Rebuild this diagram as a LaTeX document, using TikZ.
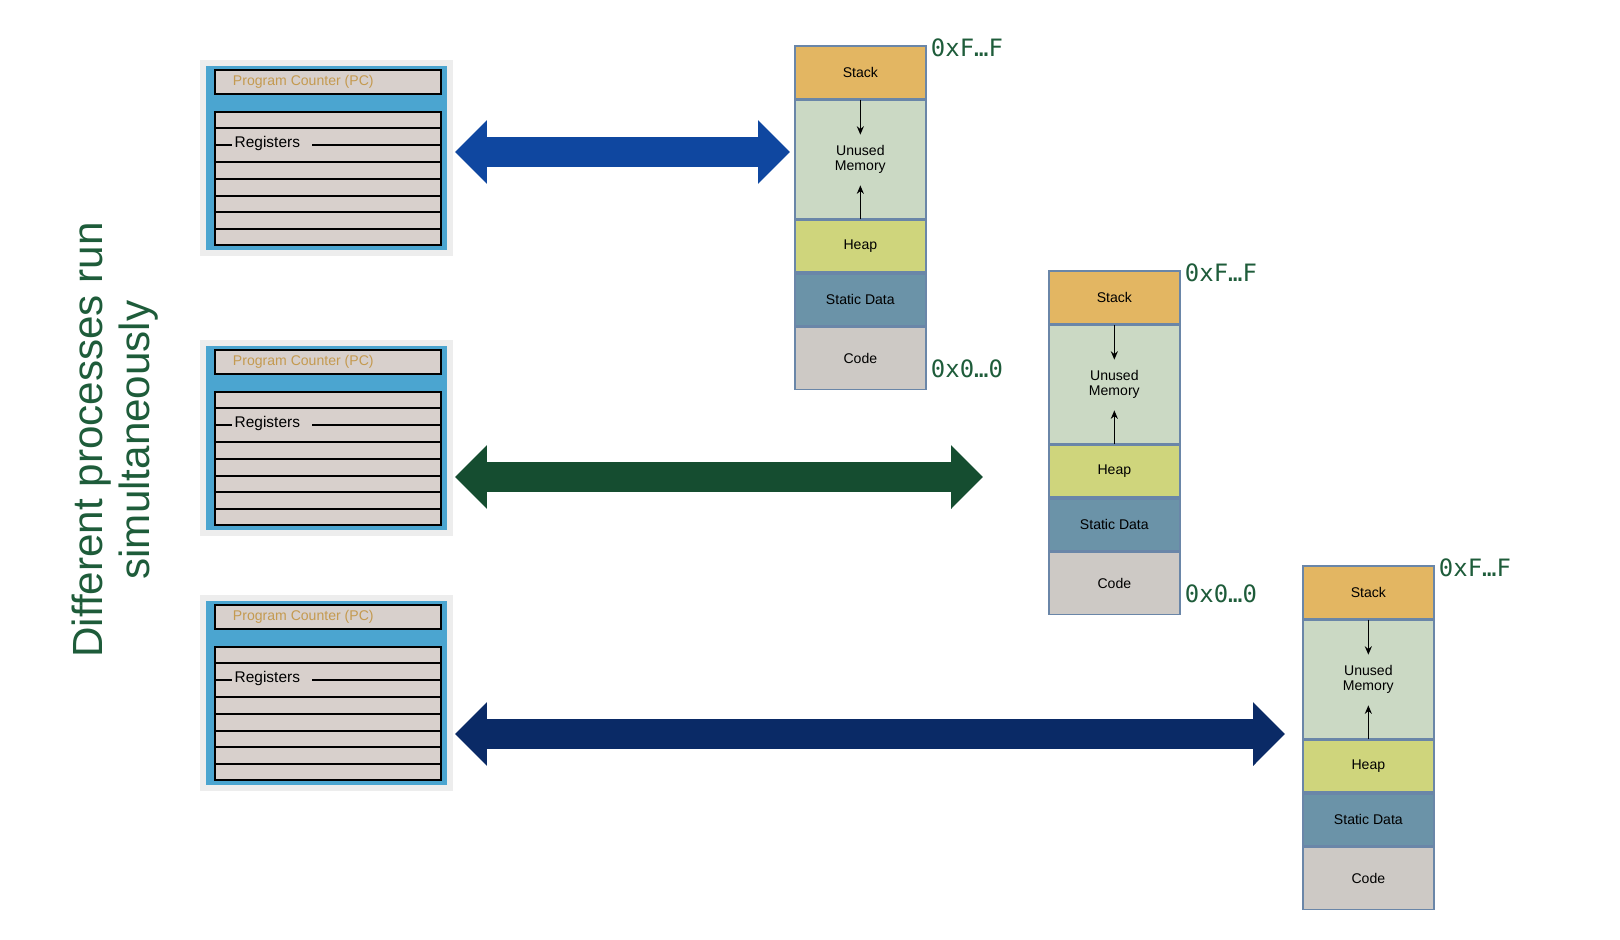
\documentclass[tikz,border=0pt]{standalone}
\usepackage{fontspec}
\setmainfont{Liberation Sans}
\newfontfamily\addrfont{DejaVu Sans Mono}
\usetikzlibrary{arrows.meta}
\definecolor{regblue}{HTML}{4BA5D0}
\definecolor{reggray}{HTML}{D8D0CC}
\definecolor{pcgold}{HTML}{C49A50}
\definecolor{stackc}{HTML}{E3B662}
\definecolor{unusedc}{HTML}{CBD9C4}
\definecolor{heapc}{HTML}{CFD57C}
\definecolor{staticc}{HTML}{6B93A8}
\definecolor{codec}{HTML}{CDC9C5}
\definecolor{memedge}{HTML}{6A86A8}
\definecolor{arrA}{HTML}{0F47A0}
\definecolor{arrB}{HTML}{154D30}
\definecolor{arrC}{HTML}{0A2A66}
\definecolor{titlegreen}{HTML}{1E5C3A}

\begin{document}
\begin{tikzpicture}[x=0.025cm,y=-0.025cm,
  seg/.style={draw=memedge,line width=1.2pt,font=\fontsize{10}{11}\selectfont},
  addr/.style={anchor=west,text=titlegreen,font=\addrfont\fontsize{17}{18}\selectfont},
  bigarrow/.style={line width=21.3pt,{Triangle[length=22.7pt,width=44pt]}-{Triangle[length=22.7pt,width=44pt]}}]
\useasboundingbox (0,0) rectangle (1620,940);
% title
\node[rotate=90,text=titlegreen,align=center,font=\fontsize{30}{34}\selectfont] (title) at (115,440)
  {Different processes run\\simultaneously};
% register files
\foreach \i/\dy in {1/0,2/280,3/535}{
  \begin{scope}[yshift=-\dy*0.025cm]
  \fill[black!7] (200,60) rectangle (453,256);
  \fill[regblue] (206,66) rectangle (447,250);
  \draw[fill=reggray,line width=1.5pt] (215,70) rectangle (441,94);
  \node[anchor=west,text=pcgold,font=\fontsize{10}{11}\selectfont] (pc\i) at (228,82) {Program Counter (PC)};
  \draw[fill=reggray,line width=1.5pt] (215,112) rectangle (441,245);
  \foreach \y in {128,162,179,196,212,229} \draw[line width=1.5pt] (215,\y) -- (441,\y);
  \draw[line width=1.5pt] (215,145) -- (232,145) (312,145) -- (441,145);
  \node[fill=reggray,inner sep=1pt,anchor=west,font=\fontsize{11}{12}\selectfont] (reg\i) at (233,143) {Registers};
  \end{scope}
}
% memory layouts
\foreach \i/\dx/\dy/\low in {1/0/0/1,2/254/225/1,3/508/520/0}{
  \begin{scope}[xshift=\dx*0.025cm,yshift=-\dy*0.025cm]
  \node[seg,fill=stackc,minimum width=131*0.025cm,minimum height=53*0.025cm,anchor=north west] (stack\i) at (794,45) {Stack};
  \node[seg,fill=unusedc,minimum width=131*0.025cm,minimum height=118*0.025cm,anchor=north,align=center] (unused\i) at (stack\i.south) {Unused\\Memory};
  \node[seg,fill=heapc,minimum width=131*0.025cm,minimum height=52*0.025cm,anchor=north] (heap\i) at (unused\i.south) {Heap};
  \node[seg,fill=staticc,minimum width=131*0.025cm,minimum height=52*0.025cm,anchor=north] (static\i) at (heap\i.south) {Static Data};
  \node[seg,fill=codec,minimum width=131*0.025cm,minimum height=62*0.025cm,anchor=north] (code\i) at (static\i.south) {Code};
  \draw[-{Stealth[length=6pt,width=5pt]},line width=1.2pt] (stack\i.south) -- ++(0,35);
  \draw[-{Stealth[length=6pt,width=5pt]},line width=1.2pt] (unused\i.south) -- ++(0,-34);
  \node[addr] (hi\i) at (926,48) {0xF…F};
  \ifnum\low=1 \node[addr] (lo\i) at (926,369) {0x0…0};\fi
  \end{scope}
}
\coordinate (tail1) at (455,152);
\coordinate (tail2) at (455,477);
\coordinate (tail3) at (455,734);
\coordinate (head1) at (790,152);
\coordinate (head2) at (983,477);
\coordinate (head3) at (1285,734);
% process arrows
\draw[bigarrow,arrA] (tail1) -- (head1);
\draw[bigarrow,arrB] (tail2) -- (head2);
\draw[bigarrow,arrC] (tail3) -- (head3);
\end{tikzpicture}
\end{document}
